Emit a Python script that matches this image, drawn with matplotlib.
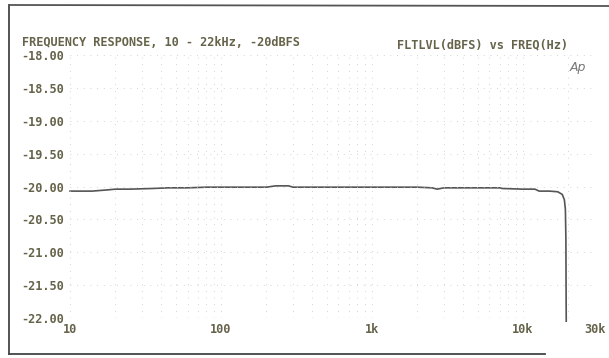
import matplotlib.pyplot as plt
import numpy as np

# Audio Precision style frequency response sweep
freq = [10, 14, 18, 20, 25, 35, 45, 60, 80, 100, 150, 200, 230, 280, 300, 500,
        700, 1000, 1500, 2000, 2500, 2700, 3000, 5000, 7000, 7300, 10000, 12000,
        12800, 15000, 17000, 18200, 18800, 19100, 19250, 19300, 19350]
level = [-20.07, -20.07, -20.05, -20.04, -20.04, -20.03, -20.02, -20.02, -20.01,
         -20.01, -20.01, -20.01, -19.99, -19.99, -20.01, -20.01, -20.01, -20.01,
         -20.01, -20.01, -20.02, -20.04, -20.02, -20.02, -20.02, -20.03, -20.04,
         -20.04, -20.07, -20.07, -20.08, -20.12, -20.2, -20.35, -20.8, -21.5, -22.05]

y_ticks = [-18.0, -18.5, -19.0, -19.5, -20.0, -20.5, -21.0, -21.5, -22.0]
x_ticks = [10, 100, 1000, 10000, 30000]
x_labels = ['10', '100', '1k', '10k', '30k']

txt_col = '#66634a'
mono = 'DejaVu Sans Mono'

fig = plt.figure(figsize=(6.09, 3.58), dpi=100)
ax = fig.add_axes([0.115, 0.112, 0.862, 0.734])

ax.semilogx(freq, level, color='#555555', lw=1.2, clip_on=False)
ax.set_xlim(10, 30000)
ax.set_ylim(-22, -18)

# faint dotted grid, like the scanned plotter output
minor = [m * 10**d for d in range(1, 5) for m in range(2, 10) if m * 10**d < 30000]
for x in x_ticks + minor:
    ax.axvline(x, color='#c4c4c4', lw=0.6, ls=(0, (1, 7)))
for y in y_ticks:
    ax.axhline(y, color='#c4c4c4', lw=0.6, ls=(0, (1, 7)))

ax.set_xticks(x_ticks)
ax.set_xticklabels(x_labels)
ax.set_xticks([], minor=True)
ax.set_yticks(y_ticks)
ax.set_yticklabels(['%.2f' % v for v in y_ticks])
ax.tick_params(length=0, colors=txt_col, labelsize=8.6, pad=4)
for lab in ax.get_xticklabels() + ax.get_yticklabels():
    lab.set_family(mono)
    lab.set_fontweight('bold')
for s in ax.spines.values():
    s.set_visible(False)

fig.text(22 / 609, 1 - 42 / 358, 'FREQUENCY RESPONSE, 10 - 22kHz, -20dBFS',
         family=mono, fontweight='bold', fontsize=8.6, color=txt_col, va='center')
fig.text(568 / 609, 1 - 45 / 358, 'FLTLVL(dBFS) vs FREQ(Hz)',
         family=mono, fontweight='bold', fontsize=8.6, color=txt_col,
         va='center', ha='right')
fig.text(578 / 609, 1 - 68 / 358, 'Ap', style='italic', fontsize=9,
         color='#777777', va='center', ha='center')

# scanned page border
fig.add_artist(plt.Line2D([9 / 609, 9 / 609], [1 - 5 / 358, 1 - 354 / 358],
                          transform=fig.transFigure, color='#444444', lw=1.3))
fig.add_artist(plt.Line2D([9 / 609, 1.0], [1 - 5 / 358, 1 - 6 / 358],
                          transform=fig.transFigure, color='#555555', lw=1.3))
fig.add_artist(plt.Line2D([9 / 609, 545 / 609], [1 - 354 / 358, 1 - 354 / 358],
                          transform=fig.transFigure, color='#444444', lw=1.3))

fig.savefig('out.png', dpi=100)
